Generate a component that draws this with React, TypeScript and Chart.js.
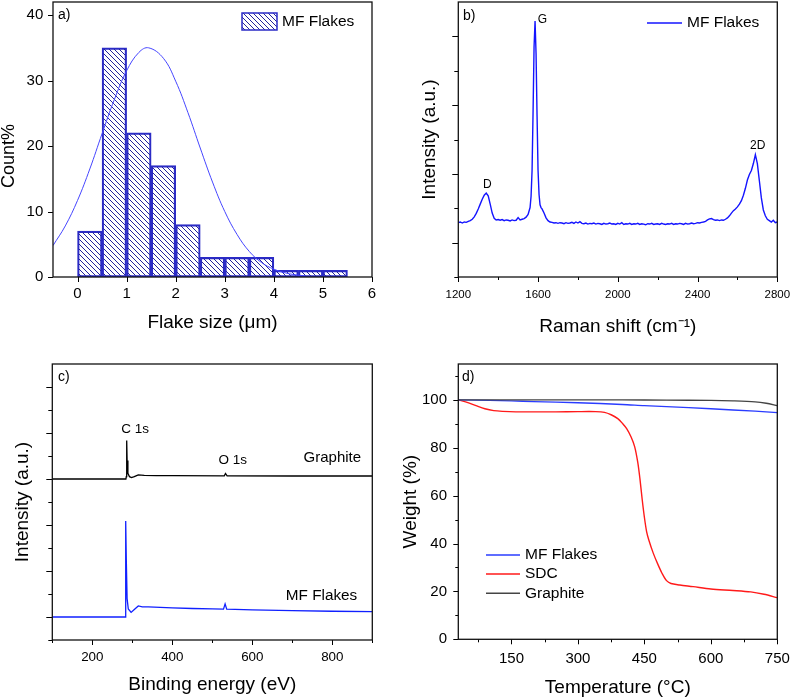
import React, { useEffect, useRef } from "react";
import { Chart, registerables } from "chart.js";

Chart.register(...registerables);

const FONT = "'Liberation Sans', Arial, Helvetica, sans-serif";

// ---------- Panel a: flake size histogram ----------
const sizeBinCenters = [0.25, 0.75, 1.25, 1.75, 2.25, 2.75, 3.25, 3.75, 4.25, 4.75, 5.25];
const sizeCounts = [7, 35, 22, 17, 8, 3, 3, 3, 1, 1, 1];
const fitSize = [-0.5, -0.25, 0, 0.25, 0.5, 0.75, 1.0, 1.25, 1.45, 1.75, 2.0, 2.25, 2.5, 2.75, 3.0, 3.25, 3.5, 3.75, 4.0, 4.25, 4.5, 4.65];
const fitCount = [4.8, 7.8, 11.7, 16.5, 21.9, 27.1, 31.5, 34.3, 35.0, 33.4, 29.9, 25.1, 19.7, 14.5, 10.0, 6.5, 3.9, 2.2, 1.2, 0.6, 0.28, 0.17];
const sizeTicks = [0, 1, 2, 3, 4, 5, 6];
const countTicks = [0, 10, 20, 30, 40];

// ---------- Panel b: Raman ----------
const ramanShift = [
  1200, 1210, 1220, 1230, 1240, 1250, 1260, 1270, 1280, 1290,
  1300, 1310, 1320, 1330, 1340, 1350, 1360, 1370, 1380, 1390,
  1400, 1410, 1420, 1430, 1440, 1450, 1460, 1470, 1480, 1490,
  1500, 1510, 1520, 1530, 1540, 1550, 1560, 1565, 1570, 1575,
  1580, 1585, 1590, 1595, 1600, 1605, 1610, 1615, 1620, 1630,
  1640, 1650, 1660, 1670, 1680, 1690, 1700, 1710, 1720, 1730,
  1740, 1750, 1760, 1770, 1780, 1790, 1800, 1810, 1820, 1830,
  1840, 1850, 1860, 1870, 1880, 1890, 1900, 1910, 1920, 1930,
  1940, 1950, 1960, 1970, 1980, 1990, 2000, 2010, 2020, 2030,
  2040, 2050, 2060, 2070, 2080, 2090, 2100, 2110, 2120, 2130,
  2140, 2150, 2160, 2170, 2180, 2190, 2200, 2210, 2220, 2230,
  2240, 2250, 2260, 2270, 2280, 2290, 2300, 2310, 2320, 2330,
  2340, 2350, 2360, 2370, 2380, 2390, 2400, 2410, 2420, 2430,
  2440, 2450, 2460, 2470, 2480, 2490, 2500, 2510, 2520, 2530,
  2540, 2550, 2560, 2570, 2580, 2590, 2600, 2610, 2620, 2630,
  2640, 2650, 2660, 2670, 2680, 2690, 2700, 2710, 2720, 2730,
  2740, 2750, 2760, 2770, 2780, 2790, 2800,
];
const ramanIntensity = [
  1.58, 1.60, 1.57, 1.60, 1.59, 1.62, 1.64, 1.68, 1.75, 1.85,
  1.98, 2.12, 2.26, 2.38, 2.44, 2.36, 2.12, 1.86, 1.71, 1.66,
  1.67, 1.65, 1.67, 1.64, 1.66, 1.65, 1.63, 1.66, 1.64, 1.65,
  1.73, 1.66, 1.68, 1.70, 1.74, 1.82, 2.02, 2.35, 3.10, 4.80,
  6.70, 7.45, 6.50, 4.70, 3.10, 2.40, 2.10, 2.02, 1.98, 1.86,
  1.72, 1.64, 1.60, 1.59, 1.57, 1.58, 1.56, 1.58, 1.57, 1.55,
  1.58, 1.56, 1.57, 1.59, 1.56, 1.60, 1.57, 1.61, 1.56, 1.55,
  1.57, 1.54, 1.56, 1.55, 1.57, 1.54, 1.56, 1.55, 1.53, 1.56,
  1.54, 1.55, 1.57, 1.54, 1.55, 1.53, 1.56, 1.54, 1.58, 1.53,
  1.55, 1.54, 1.56, 1.53, 1.55, 1.54, 1.56, 1.53, 1.55, 1.54,
  1.52, 1.55, 1.54, 1.56, 1.53, 1.54, 1.55, 1.53, 1.56, 1.54,
  1.53, 1.55, 1.54, 1.56, 1.53, 1.55, 1.54, 1.56, 1.55, 1.53,
  1.56, 1.54, 1.55, 1.57, 1.55, 1.56, 1.58, 1.57, 1.59, 1.60,
  1.62, 1.66, 1.69, 1.70, 1.67, 1.65, 1.66, 1.64, 1.66, 1.65,
  1.68, 1.72, 1.78, 1.86, 1.93, 1.98, 2.04, 2.12, 2.22, 2.38,
  2.58, 2.82, 2.98, 3.10, 3.30, 3.56, 3.30, 2.80, 2.30, 1.95,
  1.78, 1.68, 1.64, 1.60, 1.65, 1.58, 1.60,
];
const ramanTicks = [1200, 1600, 2000, 2400, 2800];
const ramanMinorTicks = [1400, 1800, 2200, 2600];

// ---------- Panel c: XPS ----------
const xpsGraphiteEnergy = [100, 284, 285, 286, 287, 289, 293, 298, 305, 315, 330, 360, 400, 530, 533, 537, 700, 900];
const xpsGraphiteIntensity = [7.0, 7.0, 7.1, 8.67, 7.8, 7.25, 7.1, 7.06, 7.1, 7.18, 7.16, 7.15, 7.15, 7.14, 7.24, 7.14, 7.13, 7.13];
const xpsFlakesEnergy = [100, 282, 283, 284, 285, 287, 290, 297, 305, 315, 325, 340, 400, 450, 500, 528, 532, 536, 600, 700, 800, 900];
const xpsFlakesIntensity = [1.0, 1.0, 1.2, 5.17, 3.5, 1.8, 1.35, 1.2, 1.33, 1.48, 1.44, 1.44, 1.4, 1.37, 1.35, 1.34, 1.57, 1.34, 1.31, 1.28, 1.25, 1.23];
const energyTicks = [200, 400, 600, 800];
const energyMinorTicks = [100, 300, 500, 700, 900];

// ---------- Panel d: TGA ----------
const tgaFlakesT = [30, 100, 150, 200, 300, 400, 450, 500, 600, 700, 750];
const tgaFlakesW = [100, 99.8, 99.6, 99.3, 98.8, 98.1, 97.6, 97.2, 96.3, 95.3, 94.7];
const tgaSdcT = [30, 50, 70, 90, 110, 130, 160, 200, 250, 300, 340, 360, 375, 390, 400, 410, 420, 428, 435, 440, 445, 450, 455, 460, 470, 480, 490, 500, 510, 530, 560, 600, 650, 690, 720, 750];
const tgaSdcW = [100, 99, 97.6, 96.3, 95.5, 95.2, 95.0, 95.0, 95.0, 95.1, 95.1, 94.8, 93.8, 92.2, 90.3, 88.0, 84.5, 80.5, 74, 67, 58.5, 51, 45, 41.5, 36, 31.5, 27.5, 24.5, 23.3, 22.7, 22.0, 21.0, 20.4, 19.8, 18.8, 17.4];
const tgaGraphiteT = [30, 200, 400, 500, 600, 650, 700, 725, 750];
const tgaGraphiteW = [100, 100, 100, 99.9, 99.8, 99.6, 99.2, 98.6, 97.6];
const tempTicks = [150, 300, 450, 600, 750];
const tempMinorTicks = [75, 225, 375, 525, 675];
const weightTicks = [0, 20, 40, 60, 80, 100];
const weightMinorTicks = [10, 30, 50, 70, 90, 110];

const pts = (xs: number[], ys: number[]) => xs.map((x, i) => ({ x, y: ys[i] }));

function makeHatch(color: string) {
  const c = document.createElement("canvas");
  c.width = 5;
  c.height = 5;
  const g = c.getContext("2d")!;
  g.strokeStyle = color;
  g.lineWidth = 1;
  g.beginPath();
  g.moveTo(-1, -1);
  g.lineTo(6, 6);
  g.moveTo(-1, 4);
  g.lineTo(1, 6);
  g.moveTo(4, -1);
  g.lineTo(6, 1);
  g.stroke();
  return g.createPattern(c, "repeat")!;
}

type TickSpec = { scale: string; values: number[]; len: number };
type TextSpec = {
  text: string;
  x: number;
  y: number;
  data?: boolean;
  size: number;
  align?: CanvasTextAlign;
  color?: string;
  rotate?: boolean;
};
type LegendSpec = {
  kind: "box" | "line";
  x1: number;
  x2: number;
  y: number;
  h?: number;
  color: string;
  fill?: any;
  text: string;
  size: number;
};

function decor(ticks: TickSpec[], texts: TextSpec[], legend: LegendSpec[]) {
  return {
    id: "decor",
    afterDraw(chart: any) {
      const { ctx, chartArea: a, scales } = chart;
      ctx.save();
      ctx.strokeStyle = "#000";
      ctx.lineWidth = 1;
      for (const t of ticks) {
        const sc = scales[t.scale];
        for (const v of t.values) {
          const p = Math.round(sc.getPixelForValue(v)) + 0.5;
          ctx.beginPath();
          if (t.scale === "x") {
            ctx.moveTo(p, a.bottom);
            ctx.lineTo(p, a.bottom + t.len);
          } else {
            ctx.moveTo(a.left, p);
            ctx.lineTo(a.left - t.len, p);
          }
          ctx.stroke();
        }
      }
      ctx.lineWidth = 1.3;
      ctx.strokeStyle = "#111";
      ctx.strokeRect(a.left, a.top, a.right - a.left, a.bottom - a.top);

      ctx.textBaseline = "middle";
      for (const t of texts) {
        const px = t.data ? scales.x.getPixelForValue(t.x) : t.x;
        const py = t.data ? scales.y.getPixelForValue(t.y) : t.y;
        ctx.font = `${t.size}px ${FONT}`;
        ctx.fillStyle = t.color || "#000";
        ctx.textAlign = t.align || "left";
        if (t.rotate) {
          ctx.save();
          ctx.translate(px, py);
          ctx.rotate(-Math.PI / 2);
          ctx.fillText(t.text, 0, 0);
          ctx.restore();
        } else {
          ctx.fillText(t.text, px, py);
        }
      }
      for (const l of legend) {
        if (l.kind === "box") {
          const h = l.h || 16;
          ctx.fillStyle = l.fill;
          ctx.fillRect(l.x1, l.y - h / 2, l.x2 - l.x1, h);
          ctx.strokeStyle = l.color;
          ctx.lineWidth = 1.5;
          ctx.strokeRect(l.x1, l.y - h / 2, l.x2 - l.x1, h);
        } else {
          ctx.strokeStyle = l.color;
          ctx.lineWidth = 1.5;
          ctx.beginPath();
          ctx.moveTo(l.x1, l.y);
          ctx.lineTo(l.x2, l.y);
          ctx.stroke();
        }
        ctx.font = `${l.size}px ${FONT}`;
        ctx.fillStyle = "#000";
        ctx.textAlign = "left";
        ctx.fillText(l.text, l.x2 + 5, l.y);
      }
      ctx.restore();
    },
  };
}

const fixW = (w: number) => (s: any) => {
  s.width = w;
  s.paddingTop = 0;
  s.paddingBottom = 0;
  s.paddingLeft = 0;
  s.paddingRight = 0;
};
const fixH = (h: number) => (s: any) => {
  s.height = h;
  s.paddingTop = 0;
  s.paddingBottom = 0;
  s.paddingLeft = 0;
  s.paddingRight = 0;
};
const setTicks = (values: number[]) => (s: any) => {
  s.ticks = values.map((v) => ({ value: v }));
};

function xScale(o: {
  min: number; max: number; values: number[]; size: number; pad: number; title: string; titlePad: number; h: number;
}) {
  return {
    type: "linear",
    position: "bottom",
    min: o.min,
    max: o.max,
    offset: false,
    grid: { display: false, drawTicks: false },
    border: { display: false },
    ticks: {
      autoSkip: false,
      maxRotation: 0,
      color: "#000",
      padding: o.pad,
      font: { family: FONT, size: o.size, lineHeight: 1.2 },
      callback: (v: number) => String(v),
    },
    title: {
      display: true,
      text: o.title,
      color: "#000",
      font: { family: FONT, size: 19, lineHeight: 1 },
      padding: { top: 0, bottom: o.titlePad },
    },
    afterBuildTicks: setTicks(o.values),
    afterFit: fixH(o.h),
  };
}

function yScale(o: {
  min: number; max: number; values: number[]; show: boolean; size?: number; pad?: number; title: string; showTitle?: boolean; titleSize: number; titlePad: number; w: number;
}) {
  return {
    type: "linear",
    position: "left",
    min: o.min,
    max: o.max,
    grid: { display: false, drawTicks: false },
    border: { display: false },
    ticks: {
      display: o.show,
      autoSkip: false,
      color: "#000",
      padding: o.pad || 0,
      font: { family: FONT, size: o.size || 12, lineHeight: 1.2 },
      callback: (v: number) => String(v),
    },
    title: {
      display: o.showTitle !== false,
      text: o.title,
      color: "#000",
      font: { family: FONT, size: o.titleSize, lineHeight: 1 },
      padding: { top: o.titlePad, bottom: 0 },
    },
    afterBuildTicks: setTicks(o.values),
    afterFit: fixW(o.w),
  };
}

const common = (padTop: number, padRight: number) => ({
  responsive: false,
  animation: false,
  devicePixelRatio: 1,
  events: [],
  layout: { padding: { top: padTop, right: padRight, bottom: 0, left: 0 } },
  plugins: { legend: { display: false }, tooltip: { enabled: false } },
});

function buildA() {
  const hatch = makeHatch("#23239c");
  return {
    type: "bar",
    data: {
      datasets: [
        {
          type: "line",
          data: pts(fitSize, fitCount),
          borderColor: "#4545ff",
          borderWidth: 1,
          pointRadius: 0,
          tension: 0.4,
          order: 0,
        },
        {
          type: "bar",
          data: pts(sizeBinCenters, sizeCounts),
          backgroundColor: hatch,
          borderColor: "#2b2bc6",
          borderWidth: 1.5,
          borderSkipped: false,
          barPercentage: 1,
          categoryPercentage: 1,
          order: 1,
        },
      ],
    },
    options: {
      ...common(2, 24),
      scales: {
        x: xScale({ min: -0.5, max: 6, values: sizeTicks, size: 15, pad: 8, title: "Flake size (μm)", titlePad: 7.5, h: 63 }),
        y: yScale({ min: 0, max: 42, values: countTicks, show: true, size: 15, pad: 9.7, title: "Count%", showTitle: false, titleSize: 18, titlePad: 0, w: 53 }),
      },
    },
    plugins: [
      decor(
        [
          { scale: "x", values: sizeTicks, len: 5 },
          { scale: "y", values: countTicks, len: 5 },
        ],
        [
          { text: "a)", x: 58, y: 15, size: 14 },
          { text: "Count%", x: 9.5, y: 156, size: 18, align: "center", rotate: true },
        ],
        [{ kind: "box", x1: 242, x2: 277, y: 21.5, h: 17, color: "#2b2bc6", fill: hatch, text: "MF Flakes", size: 15.5 }]
      ),
    ],
  };
}

function buildB() {
  return {
    type: "line",
    data: {
      datasets: [
        {
          data: pts(ramanShift, ramanIntensity),
          borderColor: "#1414ff",
          borderWidth: 1.4,
          pointRadius: 0,
          tension: 0,
        },
      ],
    },
    options: {
      ...common(2, 14.7),
      scales: {
        x: xScale({ min: 1200, max: 2800, values: ramanTicks, size: 11.5, pad: 11, title: "Raman shift (cm⁻¹)", titlePad: 3.5, h: 63 }),
        y: yScale({ min: 0, max: 8, values: [], show: false, title: "Intensity (a.u.)", titleSize: 19, titlePad: 24.5, w: 62.3 }),
      },
    },
    plugins: [
      decor(
        [
          { scale: "x", values: ramanTicks, len: 5 },
          { scale: "x", values: ramanMinorTicks, len: 3 },
          { scale: "y", values: [1, 3, 5, 7], len: 6 },
          { scale: "y", values: [0, 2, 4, 6], len: 4 },
        ],
        [
          { text: "b)", x: 67, y: 16, size: 14 },
          { text: "G", x: 1598, y: 7.5, data: true, size: 12 },
          { text: "D", x: 1345, y: 2.7, data: true, size: 12, align: "center" },
          { text: "2D", x: 2702, y: 3.82, data: true, size: 12, align: "center" },
        ],
        [{ kind: "line", x1: 251, x2: 286, y: 23, color: "#1414ff", text: "MF Flakes", size: 15.5 }]
      ),
    ],
  };
}

function buildC() {
  return {
    type: "line",
    data: {
      datasets: [
        {
          data: pts(xpsGraphiteEnergy, xpsGraphiteIntensity),
          borderColor: "#000000",
          borderWidth: 1.3,
          pointRadius: 0,
          tension: 0,
        },
        {
          data: pts(xpsFlakesEnergy, xpsFlakesIntensity),
          borderColor: "#1020ff",
          borderWidth: 1.3,
          pointRadius: 0,
          tension: 0,
        },
      ],
    },
    options: {
      ...common(24, 23.7),
      scales: {
        x: xScale({ min: 100, max: 900, values: energyTicks, size: 13.4, pad: 9.7, title: "Binding energy (eV)", titlePad: 4.5, h: 59 }),
        y: yScale({ min: 0, max: 12, values: [], show: false, title: "Intensity (a.u.)", titleSize: 19, titlePad: 13.5, w: 52.3 }),
      },
    },
    plugins: [
      decor(
        [
          { scale: "x", values: energyTicks, len: 5 },
          { scale: "x", values: energyMinorTicks, len: 3 },
          { scale: "y", values: [1, 3, 5, 7, 9, 11], len: 6 },
          { scale: "y", values: [0, 2, 4, 6, 8, 10], len: 4 },
        ],
        [
          { text: "c)", x: 58, y: 37.5, size: 14 },
          { text: "C 1s", x: 307, y: 9.16, data: true, size: 13.5, align: "center" },
          { text: "O 1s", x: 551, y: 7.83, data: true, size: 13.5, align: "center" },
          { text: "Graphite", x: 872, y: 7.9, data: true, size: 15, align: "right" },
          { text: "MF Flakes", x: 773, y: 1.91, data: true, size: 15.3, align: "center" },
        ],
        []
      ),
    ],
  };
}

function buildD() {
  return {
    type: "line",
    data: {
      datasets: [
        { data: pts(tgaGraphiteT, tgaGraphiteW), borderColor: "#444444", borderWidth: 1.4, pointRadius: 0, tension: 0.3 },
        { data: pts(tgaFlakesT, tgaFlakesW), borderColor: "#2a3cff", borderWidth: 1.4, pointRadius: 0, tension: 0.3 },
        { data: pts(tgaSdcT, tgaSdcW), borderColor: "#ff1a1a", borderWidth: 1.4, pointRadius: 0, tension: 0.3 },
      ],
    },
    options: {
      ...common(24, 14.7),
      scales: {
        x: xScale({ min: 30, max: 750, values: tempTicks, size: 15, pad: 10.7, title: "Temperature (°C)", titlePad: 1.5, h: 59.7 }),
        y: yScale({ min: 0, max: 115, values: weightTicks, show: true, size: 15, pad: 11.3, title: "Weight (%)", titleSize: 19, titlePad: 5, w: 62.3 }),
      },
    },
    plugins: [
      decor(
        [
          { scale: "x", values: tempTicks, len: 5 },
          { scale: "x", values: tempMinorTicks, len: 3 },
          { scale: "y", values: weightTicks, len: 5 },
          { scale: "y", values: weightMinorTicks, len: 3 },
        ],
        [{ text: "d)", x: 66, y: 37.5, size: 14 }],
        [
          { kind: "line", x1: 90, x2: 124, y: 215, color: "#2a3cff", text: "MF Flakes", size: 15.5 },
          { kind: "line", x1: 90, x2: 124, y: 234, color: "#ff1a1a", text: "SDC", size: 15.5 },
          { kind: "line", x1: 90, x2: 124, y: 253.3, color: "#444444", text: "Graphite", size: 15.5 },
        ]
      ),
    ],
  };
}

function Panel(props: { left: number; top: number; width: number; height: number; build: () => any }) {
  const ref = useRef<HTMLCanvasElement>(null);
  useEffect(() => {
    const chart = new Chart(ref.current as HTMLCanvasElement, props.build());
    return () => chart.destroy();
  }, []);
  return (
    <canvas
      ref={ref}
      width={props.width}
      height={props.height}
      style={{ position: "absolute", left: props.left, top: props.top, width: props.width, height: props.height }}
    />
  );
}

export default function App() {
  return (
    <div style={{ position: "absolute", left: 0, top: 0, width: 792, height: 699, background: "#fff", overflow: "hidden" }}>
      <Panel left={0} top={0} width={396} height={340} build={buildA} />
      <Panel left={396} top={0} width={396} height={340} build={buildB} />
      <Panel left={0} top={340} width={396} height={359} build={buildC} />
      <Panel left={396} top={340} width={396} height={359} build={buildD} />
    </div>
  );
}
